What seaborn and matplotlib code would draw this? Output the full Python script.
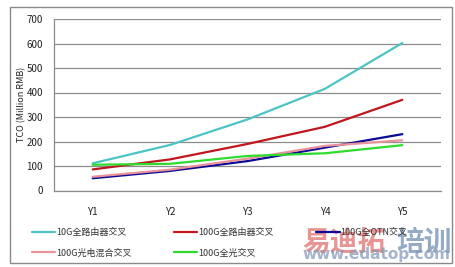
import matplotlib
matplotlib.use("Agg")
import matplotlib.pyplot as plt
import seaborn as sns
import pandas as pd
from matplotlib.patches import Rectangle

categories = ["Y1", "Y2", "Y3", "Y4", "Y5"]
series_names = ["10G全路由器交叉", "100G全路由器交叉", "100G全OTN交叉", "100G光电混合交叉", "100G全光交叉"]
s_10g_router = [111, 186, 290, 415, 602]
s_100g_router = [86, 127, 190, 260, 370]
s_100g_otn = [50, 80, 120, 175, 230]
s_100g_hybrid = [56, 85, 130, 182, 205]
s_100g_optical = [105, 109, 141, 152, 185]
y_ticks = [0, 100, 200, 300, 400, 500, 600, 700]
colors = ["#4CC4C4", "#C0161E", "#0A0A96", "#E8929A", "#2EDC2E"]

all_series = [s_10g_router, s_100g_router, s_100g_otn, s_100g_hybrid, s_100g_optical]
rows = []
for name, vals in zip(series_names, all_series):
    for i, (c, v) in enumerate(zip(categories, vals)):
        rows.append({"x": i, "cat": c, "TCO": v, "series": name})
df = pd.DataFrame(rows)

sns.set_theme(style="white")
plt.rcParams["font.family"] = ["Noto Sans CJK SC", "DejaVu Sans"]

fig = plt.figure(figsize=(4.55, 2.67), dpi=100)
fig.patch.set_facecolor("white")
fig.patches.append(Rectangle((10 / 455, 1 - 263 / 267), 442 / 455, 256 / 267,
                             transform=fig.transFigure, fill=False,
                             edgecolor="#8a8a8a", linewidth=1.0))

ax = fig.add_axes([54 / 455, 1 - 190.5 / 267, 387 / 455, 171.5 / 267])
sns.lineplot(data=df, x="x", y="TCO", hue="series", hue_order=series_names,
             palette=colors, linewidth=1.6, ax=ax, legend=True)

ax.set_xlim(-0.5, 4.5)
ax.set_ylim(0, 700)
ax.set_yticks(y_ticks)
ax.set_xticks(range(len(categories)))
ax.set_xticklabels(categories)
ax.yaxis.grid(True, color="#8c8c8c", linewidth=0.9)
ax.xaxis.grid(False)
ax.set_axisbelow(True)
for side in ["top", "right"]:
    ax.spines[side].set_visible(False)
for side in ["left", "bottom"]:
    ax.spines[side].set_color("#8c8c8c")
    ax.spines[side].set_linewidth(0.9)
ax.tick_params(axis="y", length=0, pad=8, labelsize=7, colors="#222222")
ax.tick_params(axis="x", length=0, pad=12, labelsize=7, colors="#222222")
ax.set_xlabel("")
ax.set_ylabel("TCO (Million RMB)", fontsize=6.5, color="#222222", labelpad=2)
ax.yaxis.set_label_coords(-0.072, 0.5)

handles, labels = ax.get_legend_handles_labels()
ax.get_legend().remove()
order = [0, 3, 1, 4, 2]
leg = fig.legend([handles[i] for i in order], [labels[i] for i in order],
                 ncol=3, loc="upper left", bbox_to_anchor=(28 / 455, 1 - 224 / 267),
                 frameon=False, fontsize=6.5, handlelength=2.6, handletextpad=0.1,
                 columnspacing=4.7, labelspacing=1.3, borderaxespad=0)
for t in leg.get_texts():
    t.set_color("#333333")

# watermark
fig.text(302 / 455, 1 - 243 / 267, "易迪拓", fontsize=20, fontweight="bold",
         color="#E07070", alpha=0.75, va="center", ha="left")
fig.text(452 / 455, 1 - 243 / 267, "培训", fontsize=20, fontweight="bold",
         color="#6F8FB0", alpha=0.75, va="center", ha="right")
fig.text(450 / 455, 1 - 255 / 267, "www.edatop.com", fontsize=11, fontweight="bold",
         color="#7F95B5", alpha=0.7, va="center", ha="right", family="DejaVu Sans")

fig.savefig("out.png", dpi=100, facecolor="white")
